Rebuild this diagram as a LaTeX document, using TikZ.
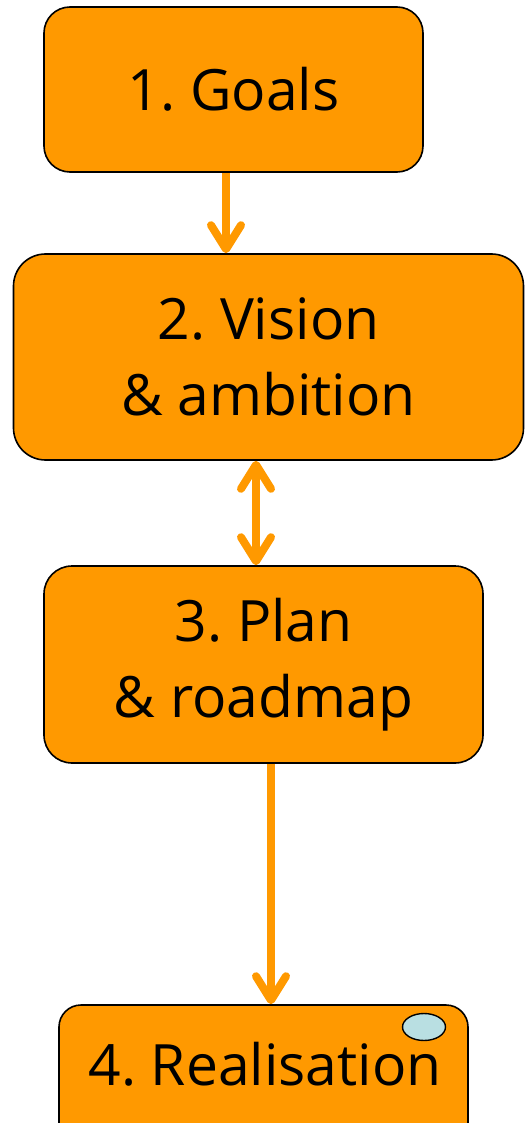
\documentclass[tikz,border=0pt]{standalone}
\usepackage{fontspec}
\setmainfont{Open Sans}
\usetikzlibrary{arrows.meta,shapes.geometric}
\definecolor{boxorange}{HTML}{FF9900}
\definecolor{dotblue}{HTML}{B9DFE2}
\frenchspacing
\tikzset{
  bigtext/.style={font=\fontsize{57}{76}\selectfont},
  stepbox/.style={draw=black, line width=1.6pt, fill=boxorange, rounded corners=#1,
    inner sep=0pt, align=center, bigtext},
  barb/.tip={Straight Barb[length=24pt,width=30pt,line cap=round,line join=round]},
  flowarrow/.style={draw=boxorange, line width=8pt, -barb},
  bothflow/.style={draw=boxorange, line width=8pt, barb-barb}
}
\begin{document}
\begin{tikzpicture}[x=1pt,y=-1pt]
\useasboundingbox (0,0) rectangle (525,1123);
\begin{scope}
\clip (0,0) rectangle (525,1123);
\node[stepbox=26pt, minimum width=379pt, minimum height=165pt] (b1) at (233.5,89.5) {1. Goals};
\node[stepbox=32pt, minimum width=510pt, minimum height=206pt] (b2) at (268.5,357) {2. Vision\\\& ambition};
\node[stepbox=28pt, minimum width=439pt, minimum height=197pt] (b3) at (263.5,664.5) {3. Plan\\\& roadmap};
\node[stepbox=22pt, minimum width=409pt, minimum height=150pt] (b4) at (263.5,1080) {};
\node[bigtext, inner sep=0pt, anchor=base] (t4) at (265,1085) {4. Realisation};
\node[ellipse, draw=black, line width=1.4pt, fill=dotblue, minimum width=43pt, minimum height=27pt, inner sep=0pt] (dot) at (424,1027) {};
\end{scope}
\draw[flowarrow] (b1.south -| 226,0) -- (b2.north -| 226,0);
\draw[bothflow] (b2.south -| 256,0) -- (b3.north -| 256,0);
\draw[flowarrow] (b3.south -| 271,0) -- (b4.north -| 271,0);
\end{tikzpicture}
\end{document}
